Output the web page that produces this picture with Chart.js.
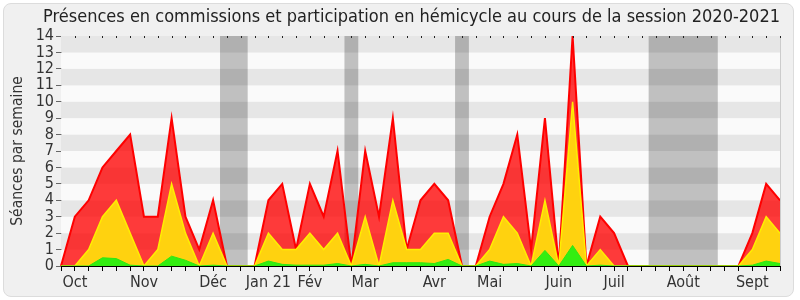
<!DOCTYPE html>
<html>
<head>
<meta charset="utf-8">
<script src="https://cdn.jsdelivr.net/npm/chart.js@4.4.1/dist/chart.umd.min.js"></script>
<style>
  html, body { margin: 0; padding: 0; background: #fff; }
  #wrap { position: relative; width: 800px; height: 300px; }
  #frame { position: absolute; left: 3px; top: 3px; width: 789px; height: 292px;
           background: #f0f0f0; border: 1px solid #dcdcdc; border-radius: 8px; }
  #chart { position: absolute; left: 0; top: 0; }
</style>
</head>
<body>
<div id="wrap">
  <div id="frame"></div>
  <canvas id="chart" width="800" height="300"></canvas>
</div>
<script>
// weekly values, session 2020-2021 (53 weeks)
const totalSeances = [0, 3, 4, 6, 7, 8, 3, 3, 9, 3, 1, 4, 0, 0, 0, 4, 5, 1, 5, 3,
  7, 0, 7, 3, 9, 1, 4, 5, 4, 0, 0, 3, 5, 8, 1, 9, 0, 14, 0, 3,
  2, 0, 0, 0, 0, 0, 0, 0, 0, 0, 2, 5, 4];
const commissions = [0, 0, 1, 3, 4, 2, 0, 1, 5, 2, 0, 2, 0, 0, 0, 2, 1, 1, 2, 1,
  2, 0, 3, 0, 4, 1, 1, 2, 2, 0, 0, 1, 3, 2, 0, 4, 0, 10, 0, 1,
  0, 0, 0, 0, 0, 0, 0, 0, 0, 0, 1, 3, 2];
const hemicycle = [0, 0, 0, 0.5, 0.45, 0.05, 0, 0, 0.6, 0.35, 0, 0.05, 0, 0, 0, 0.3, 0.1, 0.05, 0.05, 0.05,
  0.15, 0, 0.1, 0, 0.2, 0.2, 0.2, 0.15, 0.4, 0, 0, 0.3, 0.1, 0.15, 0, 0.95, 0, 1.25, 0, 0.05,
  0, 0, 0, 0, 0, 0, 0, 0, 0, 0, 0.05, 0.3, 0.15];

const monthNames = ['Oct', 'Nov', 'Déc', 'Jan 21', 'Fév', 'Mar', 'Avr', 'Mai', 'Juin', 'Juil', 'Août', 'Sept'];
const monthWeeks = [1, 6, 11, 15, 18, 22, 27, 31, 36, 40, 45, 50];

// vacances (en semaines, bornes)
const vacances = [[11.5, 13.5], [20.5, 21.5], [28.5, 29.5], [42.5, 47.5]];

const weekLabels = totalSeances.map((v, i) => {
  const k = monthWeeks.indexOf(i);
  return k >= 0 ? monthNames[k] : '';
});

const FONT = "'DejaVu Sans Condensed', 'DejaVu Sans', sans-serif";

const backgroundPlugin = {
  id: 'stripes',
  beforeDatasetsDraw(chart) {
    const { ctx, chartArea: a, scales: { x, y } } = chart;
    ctx.save();
    for (let v = 0; v < 14; v++) {
      ctx.fillStyle = v % 2 === 1 ? '#e6e6e6' : '#fafafa';
      const t = y.getPixelForValue(v + 1), b = y.getPixelForValue(v);
      ctx.fillRect(a.left, t, a.right - a.left, b - t);
    }
    ctx.fillStyle = 'rgba(0,0,0,0.23)';
    vacances.forEach(([s, e]) => {
      const l = x.getPixelForValue(s), r = x.getPixelForValue(e);
      ctx.fillRect(l, a.top, r - l, a.bottom - a.top);
    });
    ctx.restore();
  },
  afterDraw(chart) {
    const { ctx, chartArea: a, scales: { x } } = chart;
    ctx.save();
    ctx.strokeStyle = '#cccccc';
    ctx.beginPath();
    ctx.moveTo(a.right + 0.5, a.top);
    ctx.lineTo(a.right + 0.5, a.bottom);
    ctx.stroke();
    ctx.fillStyle = '#222';
    for (let i = 1; i < totalSeances.length; i++) {
      ctx.fillRect(Math.round(x.getPixelForValue(i)), a.top, 1, 2);
    }
    ctx.restore();
  }
};

new Chart(document.getElementById('chart'), {
  type: 'line',
  data: {
    labels: weekLabels,
    datasets: [
      {
        label: 'Hémicycle',
        data: hemicycle,
        borderColor: '#2ee614',
        backgroundColor: '#33ee11',
        borderWidth: 1,
        fill: 'origin',
        order: 1
      },
      {
        label: 'Commissions',
        data: commissions,
        borderColor: '#ffee00',
        backgroundColor: '#ffd20f',
        borderWidth: 1.5,
        fill: 'origin',
        order: 2
      },
      {
        label: 'Total',
        data: totalSeances,
        borderColor: '#ff0000',
        backgroundColor: 'rgba(255,0,0,0.77)',
        borderWidth: 2,
        fill: 'origin',
        order: 3
      }
    ]
  },
  options: {
    responsive: false,
    animation: false,
    devicePixelRatio: 1,
    elements: { point: { radius: 0 }, line: { tension: 0 } },
    layout: { padding: { left: 0, right: 20, top: 0, bottom: 0 } },
    plugins: {
      legend: { display: false },
      tooltip: { enabled: false },
      title: {
        display: true,
        align: 'end',
        text: 'Présences en commissions et participation en hémicycle au cours de la session 2020-2021',
        color: '#222',
        font: { family: FONT, size: 18, weight: 'normal' },
        padding: { top: 6.2, bottom: 8.2 }
      }
    },
    scales: {
      x: {
        offset: false,
        afterFit: s => { s.height = 34; },
        grid: { drawOnChartArea: false, drawTicks: true, tickLength: 5, color: '#000' },
        border: { color: '#000' },
        ticks: {
          autoSkip: false, maxRotation: 0, padding: 2,
          color: '#333', font: { family: FONT, size: 16 }
        }
      },
      y: {
        min: 0,
        max: 14,
        afterFit: s => { s.width = 61; },
        grid: { drawOnChartArea: false, tickLength: 5, color: '#666' },
        border: { color: '#000' },
        ticks: { stepSize: 1, autoSkip: false, padding: 2, color: '#333', font: { family: FONT, size: 16 } },
        title: {
          display: true,
          text: 'Séances par semaine',
          color: '#333',
          font: { family: FONT, size: 15.5 },
          padding: { top: 9, bottom: 0 }
        }
      }
    }
  },
  plugins: [backgroundPlugin]
});
</script>
</body>
</html>
